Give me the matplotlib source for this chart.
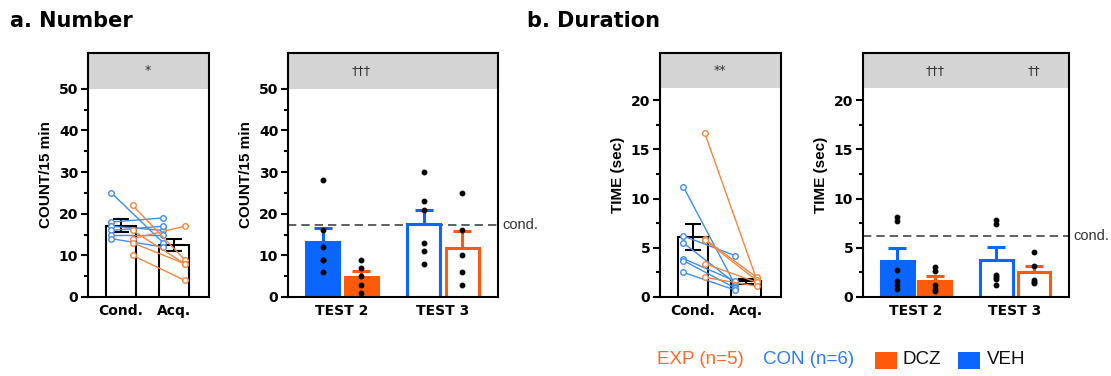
import matplotlib
matplotlib.use('Agg')
import matplotlib.pyplot as plt
import matplotlib.transforms as mtransforms
from matplotlib.patches import Rectangle

# ---- data ----
pair_labels = ['Cond.', 'Acq.']
test_labels = ['TEST 2', 'TEST 3']

# a. Number, paired (Cond. -> Acq.)
num_cond_con = [25, 18, 17, 16, 15, 14]
num_acq_con = [13, 19, 16, 17, 15, 12]
num_cond_exp = [22, 16, 14, 13, 10]
num_acq_exp = [9, 8, 17, 8, 4]
num_pair_mean = [17.1, 12.5]
num_pair_sem = [1.55, 1.5]

# a. Number, tests
num_veh_mean = [13.2, 17.5]
num_veh_sem = [3.3, 3.5]
num_dcz_mean = [4.8, 11.8]
num_dcz_sem = [1.5, 4.0]
num_veh_pts = [[28, 16, 12, 9, 9, 6], [30, 23, 21, 13, 11, 8]]
num_dcz_pts = [[9, 7, 5, 3, 1], [25, 16, 10, 6, 3]]
num_cond_ref = 17.2

# b. Duration, paired
dur_cond_con = [11.2, 6.2, 5.5, 3.9, 3.7, 2.5]
dur_acq_con = [1.2, 4.2, 1.4, 1.6, 0.9, 0.7]
dur_cond_exp = [16.7, 5.9, 5.8, 3.4, 2.0]
dur_acq_exp = [1.8, 2.0, 1.7, 1.5, 1.1]
dur_pair_mean = [6.1, 1.6]
dur_pair_sem = [1.35, 0.25]

# b. Duration, tests
dur_veh_mean = [3.7, 3.8]
dur_veh_sem = [1.3, 1.25]
dur_dcz_mean = [1.6, 2.5]
dur_dcz_sem = [0.55, 0.7]
dur_veh_pts = [[8.1, 7.7, 2.7, 1.6, 1.2, 0.8], [7.8, 7.4, 2.2, 2.0, 1.8, 1.2]]
dur_dcz_pts = [[3.0, 2.6, 1.2, 0.8, 0.6], [4.6, 3.2, 1.7, 1.5, 1.4]]
dur_cond_ref = 6.2

# significance marks in grey band
num_pair_sig = '*'
num_test_sig = ['\u2020\u2020\u2020', '']
dur_pair_sig = '**'
dur_test_sig = ['\u2020\u2020\u2020', '\u2020\u2020']

# ---- style ----
BLUE = '#0A66FF'
ORANGE = '#FF5A0A'
BLUE_L = '#3D8EF0'
ORANGE_L = '#F5873F'
BAND = '#D4D4D4'

plt.rcParams['font.family'] = ['DejaVu Sans']
plt.rcParams['axes.linewidth'] = 1.5

fig = plt.figure(figsize=(11.11, 3.76), dpi=100)
H = 376.0
W = 1111.0


def make_ax(x0, x1):
    return fig.add_axes([x0 / W, 79 / H, (x1 - x0) / W, 244 / H])


def style_ax(ax, ymax, band_lo, major, minor, ylabel):
    ax.set_ylim(0, ymax)
    ax.axhspan(band_lo, ymax, color=BAND, zorder=0, lw=0)
    ax.set_yticks(major)
    ax.set_yticks(minor, minor=True)
    ax.tick_params(axis='y', which='major', length=5, width=1.5, labelsize=10, pad=2)
    ax.tick_params(axis='y', which='minor', length=3, width=1.5)
    ax.tick_params(axis='x', length=0, pad=5, labelsize=10)
    for lab in ax.get_yticklabels() + ax.get_xticklabels():
        lab.set_fontweight('bold')
    ax.set_ylabel(ylabel, family='Liberation Sans', fontweight='bold', fontsize=11, labelpad=4)


def paired_panel(ax, cond_con, acq_con, cond_exp, acq_exp, mean, sem, ymax, band_lo, major, minor, ylabel, sig):
    xs = [0, 1]
    ax.bar(xs, mean, width=0.58, facecolor='white', edgecolor='black', lw=1.5, zorder=1)
    ax.errorbar(xs, mean, yerr=sem, fmt='none', ecolor='black', elinewidth=1.5, capsize=6, capthick=1.5, zorder=2)
    for a, b in zip(cond_con, acq_con):
        ax.plot([-0.18, 0.8], [a, b], color=BLUE_L, lw=1, marker='o', ms=4, mfc='white', mew=1, zorder=3)
    for a, b in zip(cond_exp, acq_exp):
        ax.plot([0.22, 1.2], [a, b], color=ORANGE_L, lw=1, marker='o', ms=4, mfc='white', mew=1, zorder=3)
    ax.set_xlim(-0.62, 1.66)
    ax.set_xticks(xs)
    ax.set_xticklabels(pair_labels)
    style_ax(ax, ymax, band_lo, major, minor, ylabel)
    ax.text(0.5, (band_lo + ymax) / 2, sig, ha='center', va='center', fontsize=9, color='#333333')


def test_panel(ax, veh_mean, veh_sem, dcz_mean, dcz_sem, veh_pts, dcz_pts, ref, ymax, band_lo, major, minor, ylabel, sigs):
    off = 0.19
    w = 0.33
    for g in range(2):
        fill_b = BLUE if g == 0 else 'white'
        fill_o = ORANGE if g == 0 else 'white'
        xb = g - off
        xo = g + off
        ax.bar(xb, veh_mean[g], width=w, facecolor=fill_b, edgecolor=BLUE, lw=2.2, zorder=2)
        ax.bar(xo, dcz_mean[g], width=w, facecolor=fill_o, edgecolor=ORANGE, lw=2.2, zorder=2)
        ax.errorbar(xb, veh_mean[g], yerr=[[0], [veh_sem[g]]], fmt='none', ecolor=BLUE, elinewidth=2.2,
                    capsize=6.5, capthick=2.2, zorder=1.9)
        ax.errorbar(xo, dcz_mean[g], yerr=[[0], [dcz_sem[g]]], fmt='none', ecolor=ORANGE, elinewidth=2.2,
                    capsize=6.5, capthick=2.2, zorder=1.9)
        ax.plot([xb] * len(veh_pts[g]), veh_pts[g], 'o', color='black', ms=3.2, zorder=4)
        ax.plot([xo] * len(dcz_pts[g]), dcz_pts[g], 'o', color='black', ms=3.2, zorder=4)
        if sigs[g]:
            ax.text(xo, (band_lo + ymax) / 2, sigs[g], ha='center', va='center', fontsize=9, color='#333333')
    ax.axhline(ref, color='#444444', ls=(0, (5, 3)), lw=1.2, zorder=1.5)
    trans = mtransforms.blended_transform_factory(ax.transAxes, ax.transData)
    ax.text(1.02, ref, 'cond.', transform=trans, ha='left', va='center', fontsize=10.5, color='#333333',
            family='Liberation Sans')
    ax.set_xlim(-0.535, 1.545)
    ax.set_xticks([0, 1])
    ax.set_xticklabels(test_labels)
    style_ax(ax, ymax, band_lo, major, minor, ylabel)


num_major = [0, 10, 20, 30, 40, 50]
num_minor = [5, 15, 25, 35, 45]
dur_major = [0, 5, 10, 15, 20]
dur_minor = [2.5, 7.5, 12.5, 17.5]

ax1 = make_ax(88, 209)
paired_panel(ax1, num_cond_con, num_acq_con, num_cond_exp, num_acq_exp, num_pair_mean, num_pair_sem,
             58.6, 50, num_major, num_minor, 'COUNT/15 min', num_pair_sig)

ax2 = make_ax(288, 498)
test_panel(ax2, num_veh_mean, num_veh_sem, num_dcz_mean, num_dcz_sem, num_veh_pts, num_dcz_pts, num_cond_ref,
           58.6, 50, num_major, num_minor, 'COUNT/15 min', num_test_sig)

ax3 = make_ax(660, 781)
paired_panel(ax3, dur_cond_con, dur_acq_con, dur_cond_exp, dur_acq_exp, dur_pair_mean, dur_pair_sem,
             24.8, 21.2, dur_major, dur_minor, 'TIME (sec)', dur_pair_sig)

ax4 = make_ax(863, 1069)
test_panel(ax4, dur_veh_mean, dur_veh_sem, dur_dcz_mean, dur_dcz_sem, dur_veh_pts, dur_dcz_pts, dur_cond_ref,
           24.8, 21.2, dur_major, dur_minor, 'TIME (sec)', dur_test_sig)

# panel titles
fig.text(10 / W, 1 - 21 / H, 'a. Number', fontsize=15, fontweight='bold', va='center', ha='left')
fig.text(527 / W, 1 - 21 / H, 'b. Duration', fontsize=15, fontweight='bold', va='center', ha='left')

# legend
ly = 1 - 360 / H
fig.text(657 / W, ly, 'EXP (n=5)', color='#FF6A2A', fontsize=13.5, va='center', family='Liberation Sans')
fig.text(763 / W, ly, 'CON (n=6)', color='#2F7BFF', fontsize=13.5, va='center', family='Liberation Sans')
fig.patches.append(Rectangle((875 / W, 1 - 369 / H), 22 / W, 17 / H, transform=fig.transFigure,
                             facecolor=ORANGE, edgecolor='none'))
fig.text(903 / W, ly, 'DCZ', color='#111111', fontsize=13.5, va='center', family='Liberation Sans')
fig.patches.append(Rectangle((958 / W, 1 - 369 / H), 22 / W, 17 / H, transform=fig.transFigure,
                             facecolor=BLUE, edgecolor='none'))
fig.text(987 / W, ly, 'VEH', color='#111111', fontsize=13.5, va='center', family='Liberation Sans')

fig.savefig('out.png', dpi=100)
